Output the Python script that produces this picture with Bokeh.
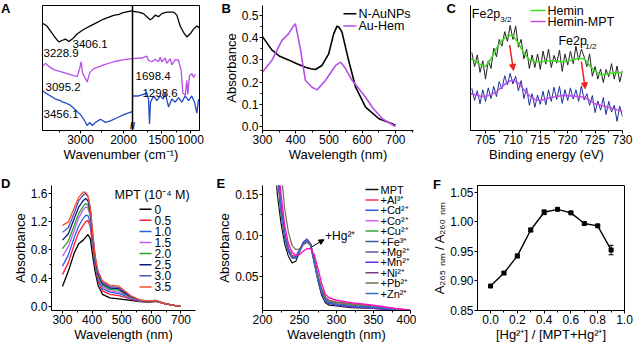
import numpy as np
from bokeh.plotting import figure
from bokeh.layouts import row, column
from bokeh.models import (Range1d, FixedTicker, Label, Arrow, NormalHead, TeeHead,
                          Span, Whisker, ColumnDataSource, NumeralTickFormatter)
from bokeh.embed import file_html
from bokeh.resources import INLINE

FONT = "Liberation Sans"
TICK_FS = "12px"
AXLAB_FS = "13px"

# ======================= DATA =======================
# ---- Panel A : FTIR (stacked, arbitrary offset units) ----
A_black_left_x = [3884, 3780, 3660, 3580, 3505, 3430, 3350, 3272, 3190, 3080, 2920, 2690, 2460, 2230, 2100, 2030, 1790]
A_black_left_y = [115, 112, 104, 99, 95, 96.5, 98, 95.5, 98, 103.5, 108.5, 114, 119.5, 123.5, 124.5, 126, 128.5]
A_black_right_x = [2000, 1897, 1810, 1753, 1695, 1655, 1609, 1552, 1495, 1409, 1293, 1236, 1178, 1121, 1064, 1005, 948, 891, 850]
A_black_right_y = [127.7, 127, 125.3, 122, 118.7, 120.3, 123.7, 122, 125.3, 127, 127, 123.7, 112, 105.3, 100.3, 103.7, 108.7, 112, 110.3]
A_purple_left_x = [3884, 3814, 3737, 3621, 3465, 3309, 3156, 3077, 3016, 2984, 2954, 2900, 2844, 2784, 2691, 2458, 2226, 1993, 1798]
A_purple_left_y = [68.7, 72, 68.7, 65.3, 63, 61, 58.7, 57.7, 67, 73.7, 62, 57, 52, 62, 66.3, 70.3, 73.7, 76, 77]
A_purple_right_x = [2000, 1840, 1753, 1724, 1667, 1609, 1552, 1522, 1495, 1436, 1409, 1350, 1322, 1264, 1207, 1160, 1133, 1091, 1064, 1046, 1017, 978, 948, 919]
A_purple_right_y = [77, 77.7, 79.7, 75.3, 73.7, 76.3, 73.7, 78.7, 73.7, 77.7, 72, 77, 70.3, 76, 75.3, 63.7, 40.3, 37.7, 53.7, 38.7, 58.7, 61, 57, 60.3]
A_blue_left_x = [3884, 3814, 3698, 3582, 3465, 3420, 3349, 3233, 3116, 3000, 2923, 2844, 2784, 2728, 2651, 2535, 2419, 2302, 2147, 1993, 1798]
A_blue_left_y = [42.7, 40.3, 37, 33.7, 32, 30.5, 29.7, 27, 22, 17, 12, 5.3, 8.7, 5.3, 8.7, 12, 8.7, 10.3, 13.7, 17, 20.3]
A_blue_right_x = [2000, 1897, 1810, 1753, 1724, 1707, 1690, 1638, 1581, 1522, 1466, 1436, 1379, 1322, 1264, 1207, 1150, 1091, 1034, 978, 931, 891, 862]
A_blue_right_y = [37, 37, 38.7, 40.3, 33.7, 7, 30.3, 37, 32, 37, 33.7, 40.3, 25.3, 33.7, 30.3, 35.3, 30.3, 37, 32, 37, 30.3, 18.7, 33.7]
A_peak_labels = ["3228.9", "3406.1", "3095.2", "3456.1"]
A_peak_lx = [3861, 3186, 3814, 3861]
A_peak_ly = [83, 93, 47, 18]
A_rpeak_labels = ["1698.4", "1298.6"]
A_rpeak_lx = [1948, 1828]
A_rpeak_ly = [58, 40]
A_ticks_left = [3000, 2000]
A_minor_left = [3500, 2500]
A_ticks_right = [1500, 1000]
A_minor_right = [1750, 1250]

# ---- Panel B : UV-vis ----
B_N_x = [300, 328, 350, 378, 400, 429, 445, 459, 479, 499, 514, 524, 530, 539, 559, 580, 610, 650, 690, 700]
B_N_y = [0.405, 0.345, 0.318, 0.30, 0.285, 0.267, 0.26, 0.257, 0.275, 0.327, 0.417, 0.452, 0.448, 0.425, 0.297, 0.177, 0.087, 0.035, 0.012, 0.005]
B_H_x = [300, 328, 358, 378, 392, 399, 413, 429, 449, 464, 489, 520, 535, 550, 570, 590, 610, 630, 660, 700]
B_H_y = [0.245, 0.297, 0.387, 0.417, 0.45, 0.463, 0.357, 0.207, 0.177, 0.165, 0.207, 0.275, 0.29, 0.26, 0.207, 0.17, 0.132, 0.087, 0.035, 0.0]
B_labels = ["N-AuNPs", "Au-Hem"]
B_colors = ["#000000", "#b64fe8"]
B_xticks = [300, 400, 500, 600, 700]
B_xminor = [350, 450, 550, 650, 750]
B_yticks = [0.0, 0.1, 0.2, 0.3, 0.4, 0.5]
B_yminor = [0.05, 0.15, 0.25, 0.35, 0.45]

# ---- Panel C : XPS Fe2p ----
C_raw_x = list(np.arange(702.5, 730.01, 0.5))
C_hemin_raw = [80.5, 66, 78, 60, 72, 53, 72, 64, 85, 76, 94, 87, 102, 92, 108.5, 94, 108, 86, 94, 74,
               84, 64, 78, 65, 79, 63, 82, 68.5, 84, 65, 77.5, 69.5, 83, 61, 79, 67.5, 82, 69, 87, 72.5,
               84, 76, 66, 79, 56, 66, 53, 63.5, 49.5, 63, 55.5, 69, 53, 66.5, 50, 62]
C_mpt_raw = [43.5, 31, 41, 27.5, 42, 30, 44, 33, 45.5, 35, 50.5, 43, 56.5, 47, 59, 48, 56, 41, 51.5, 33,
             44, 26, 38, 24, 36.5, 27, 40.5, 26.5, 42, 30, 44.5, 32, 45.5, 28, 42, 31, 44, 32.5, 42, 30,
             46, 31.5, 38, 26, 36, 18.5, 30.5, 21, 34, 16.5, 30, 19, 26, 9.5, 25, 14]
C_fit_x = list(range(702, 731))
C_hemin_fit = [75, 72, 68, 66, 74, 85, 93, 98, 98, 90, 80, 73, 71, 71, 71.5, 72, 71.5, 71, 71.5, 73,
               74.5, 74, 67, 61, 57.5, 58, 59, 59.5, 60]
C_mpt_fit = [38.5, 37, 35.5, 35, 37, 40, 45, 50, 52, 49, 42, 36, 32, 31, 32.5, 34, 35, 36, 36, 35.5,
             35, 34.5, 31, 27.5, 26, 24.5, 23, 21.5, 20]
C_labels = ["Hemin", "Hemin-MPT"]
C_colors = ["#3ee01e", "#c050ec"]
C_xticks = [705, 710, 715, 720, 725, 730]
C_xminor = [707.5, 712.5, 717.5, 722.5, 727.5]

# ---- Panel D : UV-vis titration with MPT ----
D_wl = [300, 320, 340, 355, 370, 378, 386, 394, 402, 410, 420, 435, 460, 490, 510, 530, 560, 590, 615, 640, 670, 700]
D_series = [
    [0.28, 0.50, 0.76, 0.89, 0.94, 0.98, 1.02, 0.96, 0.72, 0.50, 0.30, 0.17, 0.12, 0.105, 0.095, 0.085, 0.065, 0.06, 0.068, 0.04, 0.015, 0.0],
    [0.45, 0.62, 0.88, 1.05, 1.15, 1.20, 1.22, 1.13, 0.84, 0.58, 0.36, 0.22, 0.17, 0.15, 0.13, 0.10, 0.07, 0.065, 0.072, 0.042, 0.015, 0.0],
    [0.57, 0.73, 0.98, 1.14, 1.25, 1.29, 1.29, 1.19, 0.88, 0.61, 0.39, 0.25, 0.20, 0.18, 0.15, 0.11, 0.075, 0.068, 0.075, 0.043, 0.015, 0.0],
    [0.71, 0.85, 1.08, 1.26, 1.37, 1.41, 1.40, 1.28, 0.94, 0.65, 0.42, 0.28, 0.22, 0.20, 0.17, 0.12, 0.08, 0.07, 0.078, 0.044, 0.015, 0.0],
    [0.82, 0.93, 1.15, 1.32, 1.42, 1.46, 1.44, 1.30, 0.96, 0.67, 0.44, 0.30, 0.24, 0.23, 0.18, 0.13, 0.082, 0.072, 0.08, 0.044, 0.015, 0.0],
    [0.94, 1.03, 1.25, 1.41, 1.50, 1.53, 1.50, 1.35, 1.00, 0.69, 0.46, 0.32, 0.26, 0.25, 0.19, 0.14, 0.085, 0.073, 0.082, 0.045, 0.015, 0.0],
    [1.05, 1.12, 1.33, 1.50, 1.58, 1.60, 1.56, 1.39, 1.03, 0.71, 0.48, 0.34, 0.28, 0.27, 0.21, 0.15, 0.088, 0.074, 0.084, 0.045, 0.015, 0.0],
    [1.15, 1.20, 1.40, 1.55, 1.62, 1.62, 1.57, 1.40, 1.05, 0.72, 0.50, 0.36, 0.30, 0.285, 0.22, 0.15, 0.09, 0.075, 0.085, 0.045, 0.015, 0.0],
]
D_labels = ["0", "0.5", "1.0", "1.5", "2.0", "2.5", "3.0", "3.5"]
D_colors = ["#000000", "#ff1a3a", "#2f5fe0", "#c35cff", "#2ea02e", "#0c1a85", "#4a55b5", "#ff4a2a"]
D_title = "MPT (10\u207b\u2074 M)"
D_xticks = [300, 400, 500, 600, 700]
D_xminor = [350, 450, 550, 650]
D_yticks = [0.0, 0.4, 0.8, 1.2, 1.6]
D_yminor = [0.2, 0.6, 1.0, 1.4]

# ---- Panel E : UV-vis with metal ions ----
E_wl = [215, 220, 225, 230, 235, 240, 245, 250, 255, 260, 265, 270, 275, 280, 285, 290, 300, 320, 350, 380, 400]
E_series = [
    [0.210, 0.150, 0.115, 0.090, 0.075, 0.067, 0.069, 0.080, 0.091, 0.095, 0.088, 0.066, 0.045, 0.028, 0.019, 0.016, 0.015, 0.013, 0.012, 0.010, 0.009],
    [0.270, 0.190, 0.138, 0.104, 0.085, 0.076, 0.075, 0.081, 0.089, 0.092, 0.088, 0.071, 0.051, 0.035, 0.025, 0.021, 0.019, 0.017, 0.014, 0.011, 0.009],
    [0.250, 0.178, 0.130, 0.099, 0.081, 0.073, 0.073, 0.081, 0.090, 0.094, 0.089, 0.069, 0.048, 0.032, 0.022, 0.019, 0.017, 0.015, 0.013, 0.011, 0.009],
    [0.262, 0.184, 0.134, 0.101, 0.083, 0.074, 0.074, 0.082, 0.090, 0.094, 0.089, 0.070, 0.049, 0.033, 0.023, 0.020, 0.018, 0.016, 0.013, 0.011, 0.009],
    [0.245, 0.175, 0.128, 0.098, 0.081, 0.073, 0.073, 0.081, 0.091, 0.095, 0.090, 0.070, 0.049, 0.033, 0.023, 0.020, 0.018, 0.016, 0.014, 0.011, 0.009],
    [0.255, 0.180, 0.131, 0.100, 0.082, 0.074, 0.074, 0.082, 0.091, 0.095, 0.089, 0.069, 0.048, 0.032, 0.022, 0.019, 0.017, 0.015, 0.013, 0.011, 0.009],
    [0.248, 0.176, 0.129, 0.099, 0.081, 0.073, 0.073, 0.081, 0.090, 0.094, 0.089, 0.069, 0.048, 0.031, 0.021, 0.018, 0.017, 0.015, 0.013, 0.010, 0.009],
    [0.258, 0.182, 0.132, 0.100, 0.082, 0.074, 0.074, 0.082, 0.092, 0.096, 0.090, 0.070, 0.048, 0.031, 0.021, 0.018, 0.016, 0.014, 0.012, 0.010, 0.009],
    [0.265, 0.186, 0.135, 0.102, 0.084, 0.075, 0.075, 0.083, 0.091, 0.095, 0.090, 0.070, 0.049, 0.032, 0.022, 0.019, 0.017, 0.015, 0.013, 0.011, 0.009],
    [0.340, 0.250, 0.180, 0.132, 0.104, 0.088, 0.083, 0.084, 0.089, 0.092, 0.088, 0.072, 0.052, 0.036, 0.026, 0.022, 0.020, 0.018, 0.015, 0.012, 0.010],
    [0.260, 0.183, 0.133, 0.101, 0.083, 0.074, 0.074, 0.082, 0.090, 0.094, 0.089, 0.069, 0.048, 0.032, 0.022, 0.019, 0.017, 0.015, 0.013, 0.011, 0.009],
]
E_labels = ["MPT", "+Al\u00b3\u207a", "+Cd\u00b2\u207a", "+Co\u00b2\u207a", "+Cu\u00b2\u207a", "+Fe\u00b3\u207a",
            "+Mg\u00b2\u207a", "+Mn\u00b2\u207a", "+Ni\u00b2\u207a", "+Pb\u00b2\u207a", "+Zn\u00b2\u207a"]
E_colors = ["#111111", "#ff2a55", "#2a5ad8", "#e060ff", "#35a535", "#3a5a98",
            "#5a5aa8", "#6a2ae0", "#7a3a8a", "#6e6e4e", "#2f72d0"]
E_hg = [0.300, 0.210, 0.150, 0.112, 0.090, 0.080, 0.076, 0.077, 0.081, 0.084, 0.084, 0.077, 0.060, 0.042, 0.029, 0.025, 0.022, 0.019, 0.016, 0.012, 0.010]
E_hg_color = "#ff10c8"
E_hg_label = "+Hg\u00b2\u207a"
E_xticks = [200, 250, 300, 350, 400]
E_xminor = [225, 275, 325, 375]
E_yticks = [0.05, 0.10, 0.15]
E_yminor = [0.025, 0.075, 0.125]

# ---- Panel F : Job's plot ----
F_x = [0.0, 0.1, 0.2, 0.3, 0.4, 0.5, 0.6, 0.7, 0.8, 0.9]
F_y = [0.891, 0.913, 0.942, 0.986, 1.016, 1.021, 1.015, 0.997, 0.993, 0.952]
F_err = [0.002, 0.002, 0.003, 0.003, 0.004, 0.002, 0.002, 0.002, 0.002, 0.008]
F_xticks = [0.0, 0.2, 0.4, 0.6, 0.8, 1.0]
F_xminor = [0.1, 0.3, 0.5, 0.7, 0.9]
F_yticks = [0.85, 0.90, 0.95, 1.00, 1.05]
F_yminor = []

# ======================= HELPERS =======================
def mk(w, h, l, r, t, b, xr, yr, box=False):
    p = figure(width=w, height=h, x_range=xr, y_range=yr, output_backend="svg",
               toolbar_location=None, min_border_left=l, min_border_right=r,
               min_border_top=t, min_border_bottom=b)
    p.xgrid.visible = False
    p.ygrid.visible = False
    p.outline_line_color = "black" if box else None
    p.outline_line_width = 1
    p.background_fill_color = "white"
    p.border_fill_color = "white"
    return p


def sty(ax, ticks=None, minor=None, fmt=None, label=None):
    ax.axis_line_color = "black"
    ax.axis_line_width = 1
    ax.major_tick_line_color = "black"
    ax.minor_tick_line_color = "black"
    ax.major_tick_in = 0
    ax.major_tick_out = 3
    ax.minor_tick_in = 0
    ax.minor_tick_out = 2
    ax.major_label_text_font = FONT
    ax.major_label_text_font_size = TICK_FS
    ax.major_label_text_color = "black"
    ax.major_label_standoff = 1
    ax.axis_label_text_font = FONT
    ax.axis_label_text_font_size = AXLAB_FS
    ax.axis_label_text_font_style = "normal"
    ax.axis_label_text_color = "black"
    ax.axis_label_standoff = 0
    if ticks is not None:
        ax.ticker = FixedTicker(ticks=ticks, minor_ticks=minor or [])
    if fmt:
        ax.formatter = NumeralTickFormatter(format=fmt)
    if label:
        ax.axis_label = label


def txt(p, x, y, text, size, units="screen", **kw):
    kw.setdefault("text_baseline", "middle")
    p.add_layout(Label(x=x, y=y, x_units=units, y_units=units, text=text,
                       text_font=FONT, text_font_size=size, text_color="black", **kw))


def letter(p, text, cx, cy):
    kw = dict(text=text, text_font=FONT, text_font_size="13px", text_font_style="bold",
              text_color="black", text_baseline="top", text_align="left")
    try:
        lab = Label(x=cx, y=cy, x_units="canvas", y_units="canvas", **kw)
    except Exception:
        lab = Label(x=0, y=0, x_units="screen", y_units="screen", **kw)
    p.add_layout(lab, "left")


def legend(p, labels, colors, x0, top_off, dy, frame_h, size, length=13, gap=3, lw=1.5):
    for i, (lab, col) in enumerate(zip(labels, colors)):
        yy = frame_h - top_off - i * dy
        p.add_layout(Arrow(end=None, x_start=x0, y_start=yy, x_end=x0 + length, y_end=yy,
                           start_units="screen", end_units="screen",
                           line_color=col, line_width=lw))
        txt(p, x0 + length + gap, yy, lab, size)


# ======================= PANEL A =======================
A_W, A_H, A_L, A_R, A_T, A_B = 205, 175, 42, 6, 3, 38
A_fh = A_H - A_T - A_B
A_frac = 90 / 157
A_ls, A_le = 3884, 1790
A_rs, A_re = 2000, 845
A_full_end = A_ls - (A_ls - A_le) / A_frac
A_r_full_start = A_rs + (A_rs - A_re) * A_frac / (1 - A_frac)


def a_conv(w):
    frac = (A_r_full_start - w) / (A_r_full_start - A_re)
    return round(A_ls - frac * (A_ls - A_full_end), 4)


pA = mk(A_W, A_H, A_L, A_R, A_T, A_B, Range1d(A_ls, A_full_end), Range1d(0, 134), box=True)
pA.extra_x_ranges = {"r": Range1d(A_r_full_start, A_re)}
pA.yaxis.visible = False
ticksA = A_ticks_left + [a_conv(t) for t in A_ticks_right]
minorA = A_minor_left + [a_conv(t) for t in A_minor_right]
sty(pA.xaxis[0], ticksA, minorA, label="Wavenumber (cm\u207b\u00b9)")
pA.xaxis[0].major_label_overrides = {a_conv(t): str(t) for t in A_ticks_right}
pA.xaxis[0].formatter = NumeralTickFormatter(format="0")
pA.line(A_black_left_x, A_black_left_y, line_color="black", line_width=1.3)
pA.line(A_black_right_x, A_black_right_y, line_color="black", line_width=1.3, x_range_name="r")
pA.line(A_purple_left_x, A_purple_left_y, line_color="#b64fe8", line_width=1.3)
pA.line(A_purple_right_x, A_purple_right_y, line_color="#b64fe8", line_width=1.3, x_range_name="r")
pA.line(A_blue_left_x, A_blue_left_y, line_color="#2349c8", line_width=1.3)
pA.line(A_blue_right_x, A_blue_right_y, line_color="#2349c8", line_width=1.3, x_range_name="r")
pA.add_layout(Span(location=A_le, dimension="height", line_color="black", line_width=1.5))
for lab, lx, ly in zip(A_peak_labels, A_peak_lx, A_peak_ly):
    txt(pA, lx, ly, lab, "11.5px", units="data")
for lab, lx, ly in zip(A_rpeak_labels, A_rpeak_lx, A_rpeak_ly):
    pA.add_layout(Label(x=lx, y=ly, text=lab, x_range_name="r", text_font=FONT,
                        text_font_size="11.5px", text_baseline="middle", text_color="black"))
pA.add_layout(Label(x=A_le, y=0, y_units="screen", text="//", text_font=FONT,
                    text_font_size="9px", text_align="center", text_baseline="bottom",
                    text_font_style="bold", text_color="black"))
letter(pA, "A", 0.5, 0)

# ======================= PANEL B =======================
B_W, B_H, B_L, B_R, B_T, B_B = 211, 175, 57, 3, 5, 45
B_fh = B_H - B_T - B_B
pB = mk(B_W, B_H, B_L, B_R, B_T, B_B, Range1d(300, 754), Range1d(-0.018, 0.545))
sty(pB.xaxis[0], B_xticks, B_xminor, "0", "Wavelength (nm)")
sty(pB.yaxis[0], B_yticks, B_yminor, "0.0", "Absorbance")
pB.line(B_N_x, B_N_y, line_color=B_colors[0], line_width=1.6)
pB.line(B_H_x, B_H_y, line_color=B_colors[1], line_width=1.6)
legend(pB, B_labels, B_colors, 81, 8.3, 12.3, B_fh, "12.5px", length=13, gap=2)
letter(pB, "B", 16, 0)

# ======================= PANEL C =======================
C_W, C_H, C_L, C_R, C_T, C_B = 219, 175, 54, 13, 5, 41
C_fh = C_H - C_T - C_B
pC = mk(C_W, C_H, C_L, C_R, C_T, C_B, Range1d(702.26, 730), Range1d(0, 129))
sty(pC.xaxis[0], C_xticks, C_xminor, "0", "Binding energy (eV)")
sty(pC.yaxis[0], [], [])
pC.yaxis[0].major_tick_out = 0
pC.yaxis[0].minor_tick_out = 0
pC.line(C_raw_x, C_hemin_raw, line_color="#222222", line_width=1)
pC.line(C_fit_x, C_hemin_fit, line_color=C_colors[0], line_width=1.6)
pC.line(C_raw_x, C_mpt_raw, line_color="#1c2f9a", line_width=1)
pC.line(C_fit_x, C_mpt_fit, line_color=C_colors[1], line_width=1.6)
red = "#ee2222"
pC.add_layout(Arrow(end=NormalHead(size=6, fill_color=red, line_color=red), x_start=709.4, y_start=88,
                    x_end=710.1, y_end=62, line_color=red, line_width=1.5))
pC.add_layout(Arrow(end=NormalHead(size=6, fill_color=red, line_color=red), x_start=722.5, y_start=71,
                    x_end=723.2, y_end=43, line_color=red, line_width=1.5))
txt(pC, 702.5, 120, "Fe2p", "12.5px", units="data")
txt(pC, 707.7, 115, "3/2", "8px", units="data")
txt(pC, 718.3, 92, "Fe2p", "12.5px", units="data")
txt(pC, 723.2, 87, "1/2", "8px", units="data")
legend(pC, C_labels, C_colors, 60, 9, 11, C_fh, "12.5px", length=15, gap=2)
letter(pC, "C", 30, 0)

# ======================= PANEL D =======================
D_W, D_H, D_L, D_R, D_T, D_B = 205, 175, 47, 10, 10, 38
D_fh = D_H - D_T - D_B
pD = mk(D_W, D_H, D_L, D_R, D_T, D_B, Range1d(263, 749), Range1d(-0.06, 1.716))
sty(pD.xaxis[0], D_xticks, D_xminor, "0", "Wavelength (nm)")
sty(pD.yaxis[0], D_yticks, D_yminor, "0.0", "Absorbance")
for ys, col in zip(D_series, D_colors):
    pD.line(D_wl, ys, line_color=col, line_width=1.3)
txt(pD, 63, D_fh - 11.7, D_title, "12.5px")
legend(pD, D_labels, D_colors, 88, 25.7, 11.1, D_fh, "12px", length=12, gap=3)
letter(pD, "D", 0.5, 0)

# ======================= PANEL E =======================
E_W, E_H, E_L, E_R, E_T, E_B = 211, 175, 54, 6, 7, 40
E_fh = E_H - E_T - E_B
pE = mk(E_W, E_H, E_L, E_R, E_T, E_B, Range1d(200, 400), Range1d(0.0096, 0.1603))
sty(pE.xaxis[0], E_xticks, E_xminor, "0", "Wavelength (nm)")
sty(pE.yaxis[0], E_yticks, E_yminor, "0.00", "Absorbance")
for ys, col in zip(E_series, E_colors):
    pE.line(E_wl, ys, line_color=col, line_width=1.2)
pE.line(E_wl, E_hg, line_color=E_hg_color, line_width=1.4)
pE.add_layout(Arrow(end=NormalHead(size=5, fill_color="black", line_color="black"),
                    x_start=266, y_start=0.086, x_end=283, y_end=0.095,
                    line_color="black", line_width=1))
txt(pE, 284.5, 0.0995, E_hg_label, "12px", units="data")
legend(pE, E_labels, E_colors, 103, 7, 10.4, E_fh, "11px", length=13, gap=2)
letter(pE, "E", 11, 0)

# ======================= PANEL F =======================
F_W, F_H, F_L, F_R, F_T, F_B = 219, 175, 61, 11, 7, 38
F_fh = F_H - F_T - F_B
pF = mk(F_W, F_H, F_L, F_R, F_T, F_B, Range1d(-0.0975, 1.0), Range1d(0.8495, 1.0614), box=True)
sty(pF.xaxis[0], F_xticks, F_xminor, "0.0", "[Hg\u00b2\u207a] / [MPT+Hg\u00b2\u207a]")
sty(pF.yaxis[0], F_yticks, F_yminor, "0.00", "A\u2082\u2086\u2085 \u2099\u2098 / A\u2082\u2086\u2080 \u2099\u2098")
srcF = ColumnDataSource(dict(x=F_x, y=F_y,
                             lo=[y - e for y, e in zip(F_y, F_err)],
                             hi=[y + e for y, e in zip(F_y, F_err)]))
pF.line("x", "y", source=srcF, line_color="black", line_width=1.4)
pF.add_layout(Whisker(base="x", lower="lo", upper="hi", source=srcF, line_color="black",
                      line_width=1,
                      upper_head=TeeHead(size=5, line_color="black", line_width=1),
                      lower_head=TeeHead(size=5, line_color="black", line_width=1)))
pF.scatter("x", "y", source=srcF, marker="square", size=4, fill_color="black", line_color="black")
letter(pF, "F", 16.5, 1)

layout = column(row(pA, pB, pC), row(pD, pE, pF))
open("out.html", "w").write(file_html(layout, INLINE))
